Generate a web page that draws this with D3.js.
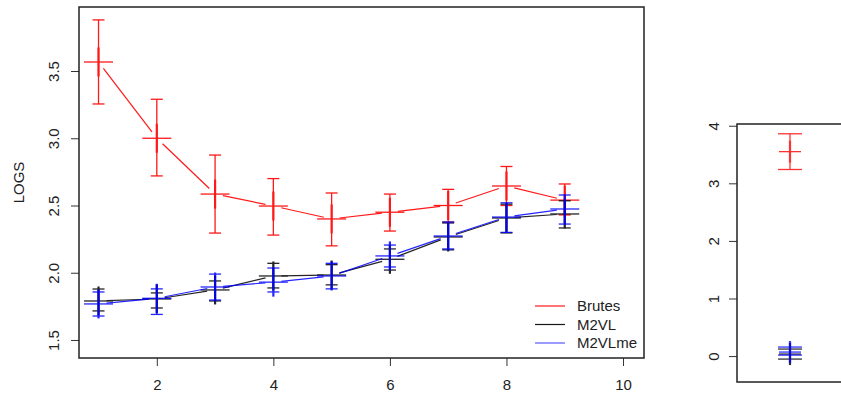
<!DOCTYPE html>
<html>
<head>
<meta charset="utf-8">
<script src="https://cdn.jsdelivr.net/npm/d3@7"></script>
<style>
  body { margin: 0; background: #fff; }
  text { font-family: "Liberation Sans", Arial, sans-serif; fill: #222; }
</style>
</head>
<body>
<svg id="chart" width="841" height="394"></svg>
<script>
// --- data ---
var steps = [1, 2, 3, 4, 5, 6, 7, 8, 9];

var brutesMean = [3.567, 3.00, 2.585, 2.496, 2.40, 2.45, 2.50, 2.645, 2.54];
var brutesUp   = [3.88, 3.29, 2.875, 2.70, 2.593, 2.585, 2.62, 2.79, 2.66];
var brutesLow  = [3.255, 2.72, 2.295, 2.28, 2.20, 2.31, 2.377, 2.50, 2.43];

var m2vlMean = [1.79, 1.805, 1.872, 1.976, 1.983, 2.10, 2.266, 2.407, 2.437];
var m2vlUp   = [1.879, 1.85, 1.939, 2.07, 2.06, 2.177, 2.37, 2.51, 2.535];
var m2vlLow  = [1.716, 1.738, 1.79, 1.887, 1.91, 2.02, 2.17, 2.296, 2.333];

var m2vlmeMean = [1.768, 1.81, 1.894, 1.93, 1.976, 2.125, 2.273, 2.414, 2.474];
var m2vlmeUp   = [1.857, 1.88, 1.99, 2.035, 2.07, 2.206, 2.377, 2.52, 2.578];
var m2vlmeLow  = [1.678, 1.69, 1.797, 1.857, 1.88, 2.043, 2.177, 2.30, 2.362];

// small side panel: one point per method
var insetMean = [3.55, 0.035, 0.07];
var insetUp   = [3.86, 0.122, 0.157];
var insetLow  = [3.24, -0.052, 0.017];

var seriesNames  = ["Brutes", "M2VL", "M2VLme"];
var seriesColors = ["#ff0000", "#000000", "#0000ff"];

var xTicks = [2, 4, 6, 8, 10];
var yTicks = [1.5, 2.0, 2.5, 3.0, 3.5];
var insetTicks = [0, 1, 2, 3, 4];

// --- layout ---
var svg = d3.select("#chart");
var box = { left: 79, top: 7, right: 644, bottom: 358 };
var fontSize = "15px";

var x = d3.scaleLinear().domain([0.665, 10.36]).range([box.left, box.right]);
var y = d3.scaleLinear().domain([1.366, 3.976]).range([box.bottom, box.top]);

var series = [
  { mean: brutesMean, up: brutesUp, low: brutesLow },
  { mean: m2vlMean, up: m2vlUp, low: m2vlLow },
  { mean: m2vlmeMean, up: m2vlmeUp, low: m2vlmeLow }
];

// axes
var yAxis = svg.append("g")
  .attr("transform", "translate(" + box.left + ",0)")
  .call(d3.axisLeft(y).tickValues(yTicks).tickSize(8).tickFormat(d3.format(".1f")));
yAxis.select(".domain").remove();
yAxis.selectAll("line").attr("stroke", "#333");
yAxis.selectAll("text")
  .attr("x", 0).attr("dy", 0)
  .attr("transform", "translate(-20,0) rotate(-90)")
  .attr("text-anchor", "middle")
  .style("font-size", fontSize);

var xAxis = svg.append("g")
  .attr("transform", "translate(0," + box.bottom + ")")
  .call(d3.axisBottom(x).tickValues(xTicks).tickSize(8).tickFormat(d3.format("d")));
xAxis.select(".domain").remove();
xAxis.selectAll("line").attr("stroke", "#333");
xAxis.selectAll("text").attr("y", 21).attr("dy", "0.71em").style("font-size", fontSize);

svg.append("text")
  .attr("transform", "translate(24," + (box.top + box.bottom) / 2 + ") rotate(-90)")
  .attr("text-anchor", "middle")
  .style("font-size", fontSize)
  .text("LOGS");

// connecting lines with small gaps near the points (type "b")
var gap = 8;
function drawLines(g, xs, ys, color) {
  for (var i = 0; i < xs.length - 1; i++) {
    var x1 = xs[i], y1 = ys[i], x2 = xs[i + 1], y2 = ys[i + 1];
    var dx = x2 - x1, dy = y2 - y1, len = Math.sqrt(dx * dx + dy * dy);
    if (len <= 2 * gap) continue;
    g.append("line")
      .attr("x1", x1 + dx / len * gap).attr("y1", y1 + dy / len * gap)
      .attr("x2", x2 - dx / len * gap).attr("y2", y2 - dy / len * gap)
      .attr("stroke", color).attr("stroke-width", 1.2);
  }
}

function drawErrorPoints(g, xs, mean, up, low, color, yScale, plus, cap) {
  xs.forEach(function(xv, i) {
    var cx = xv, cy = yScale(mean[i]);
    g.append("line").attr("x1", cx).attr("x2", cx)
      .attr("y1", yScale(up[i])).attr("y2", yScale(low[i]))
      .attr("stroke", color).attr("stroke-width", 1.3);
    [up[i], low[i]].forEach(function(v) {
      g.append("line").attr("x1", cx - cap).attr("x2", cx + cap)
        .attr("y1", yScale(v)).attr("y2", yScale(v))
        .attr("stroke", color).attr("stroke-width", 1.3);
    });
    // plus symbol
    g.append("line").attr("x1", cx - plus).attr("x2", cx + plus)
      .attr("y1", cy).attr("y2", cy)
      .attr("stroke", color).attr("stroke-width", 1.3);
    g.append("line").attr("x1", cx).attr("x2", cx)
      .attr("y1", cy - plus).attr("y2", cy + plus)
      .attr("stroke", color).attr("stroke-width", 2.2);
  });
}

var plot = svg.append("g");
series.forEach(function(s, k) {
  var g = plot.append("g").attr("opacity", k === 0 ? 0.9 : 0.85);
  var px = steps.map(function(d) { return x(d); });
  var py = s.mean.map(function(d) { return y(d); });
  drawLines(g, px, py, seriesColors[k]);
  drawErrorPoints(g, px, s.mean, s.up, s.low, seriesColors[k], y, 14.5, 6);
});

svg.append("rect")
  .attr("x", box.left).attr("y", box.top)
  .attr("width", box.right - box.left).attr("height", box.bottom - box.top)
  .attr("fill", "none").attr("stroke", "#222").attr("stroke-width", 1.5);

// legend
var legend = svg.append("g");
seriesNames.forEach(function(name, k) {
  var ly = 306 + k * 18.5;
  legend.append("line").attr("x1", 535).attr("x2", 565)
    .attr("y1", ly).attr("y2", ly)
    .attr("stroke", seriesColors[k]).attr("stroke-width", 1.2)
    .attr("opacity", k === 2 ? 0.65 : 0.9);
  legend.append("text").attr("x", 577).attr("y", ly).attr("dy", "0.35em")
    .style("font-size", fontSize).text(name);
});

// --- side panel ---
var ibox = { left: 737, top: 124, right: 843, bottom: 382 };
var ix = d3.scaleLinear().domain([0.5, 1.5]).range([ibox.left, ibox.right]);
var iy = d3.scaleLinear().domain([-0.45, 4.03]).range([ibox.bottom, ibox.top]);

var iAxis = svg.append("g")
  .attr("transform", "translate(" + ibox.left + ",0)")
  .call(d3.axisLeft(iy).tickValues(insetTicks).tickSize(8).tickFormat(d3.format("d")));
iAxis.select(".domain").remove();
iAxis.selectAll("line").attr("stroke", "#333");
iAxis.selectAll("text")
  .attr("x", 0).attr("dy", 0)
  .attr("transform", "translate(-18,0) rotate(-90)")
  .attr("text-anchor", "middle")
  .style("font-size", fontSize);

var inset = svg.append("g");
[1, 2, 0].forEach(function(k) {
  var g = inset.append("g").attr("opacity", 0.8);
  drawErrorPoints(g, [ix(1)], [insetMean[k]], [insetUp[k]], [insetLow[k]],
    seriesColors[k], iy, 11, 12);
});

svg.append("rect")
  .attr("x", ibox.left).attr("y", ibox.top)
  .attr("width", ibox.right - ibox.left).attr("height", ibox.bottom - ibox.top)
  .attr("fill", "none").attr("stroke", "#222").attr("stroke-width", 1.5);
</script>
</body>
</html>
